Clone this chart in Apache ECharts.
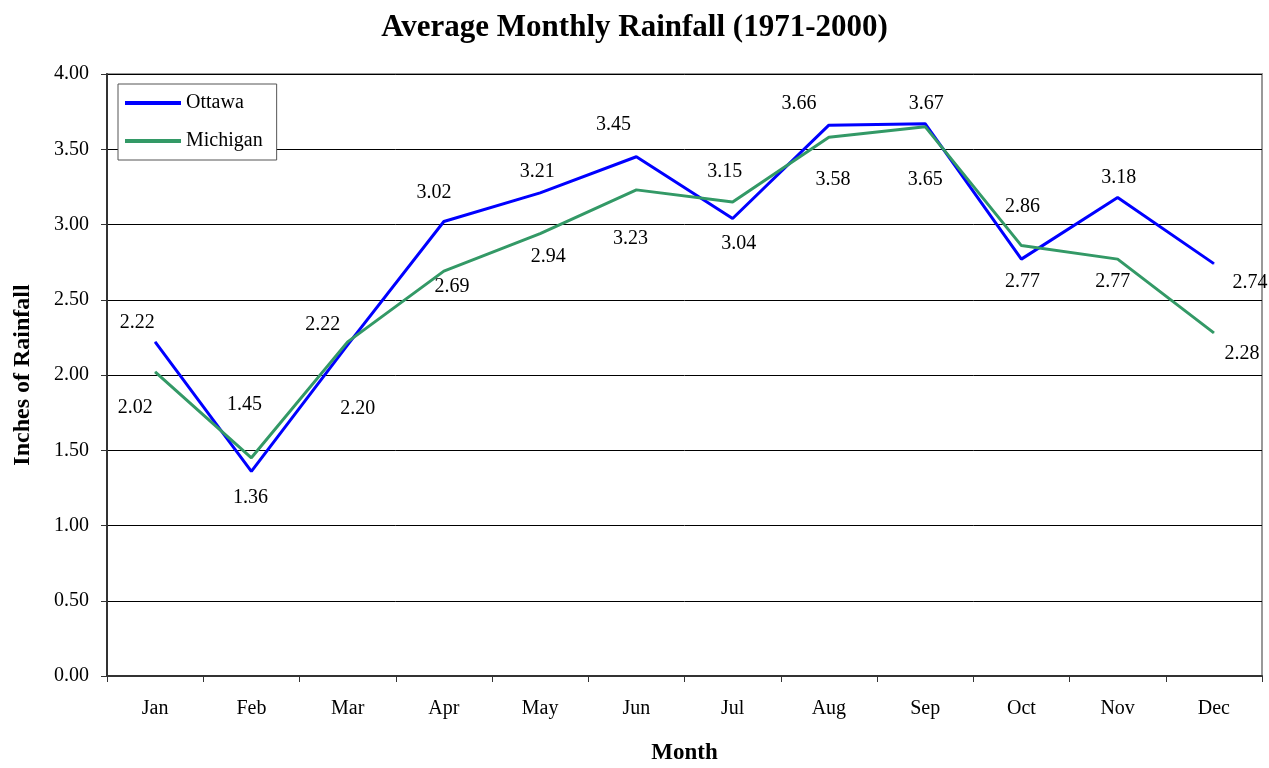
<!DOCTYPE html>
<html>
<head>
<meta charset="utf-8">
<script src="https://cdn.jsdelivr.net/npm/echarts@6/dist/echarts.min.js"></script>
<style>
  html, body { margin: 0; padding: 0; background: #fff; }
  #container { width: 1269px; height: 768px; }
</style>
</head>
<body>
<div id="container"></div>
<script>
var dom = document.getElementById("container");
var myChart = echarts.init(dom);

// data
var months = ['Jan', 'Feb', 'Mar', 'Apr', 'May', 'Jun', 'Jul', 'Aug', 'Sep', 'Oct', 'Nov', 'Dec'];
var ottawa = [2.22, 1.36, 2.20, 3.02, 3.21, 3.45, 3.04, 3.66, 3.67, 2.77, 3.18, 2.74];
var michigan = [2.02, 1.45, 2.22, 2.69, 2.94, 3.23, 3.15, 3.58, 3.65, 2.86, 2.77, 2.28];

// where each value label sits relative to its point (style only)
var ottawaLabelShift = [[-18, -19], [-1, 26], [10, 64], [-10, -29], [-3, -21], [-23, -32],
    [6, 25], [-30, -21], [1, -20], [1, 23], [1, -20], [36, 19]];
var michiganLabelShift = [[-20, 36], [-7, -53], [-25, -17], [8, 16], [8, 23], [-6, 49],
    [-8, -30], [4, 43], [0, 53], [1, -39], [-5, 23], [28, 21]];

var serif = '"Liberation Serif", "Times New Roman", serif';

function withLabels(values, shifts) {
    return values.map(function (v, i) {
        return {
            value: v,
            label: { offset: shifts[i] }
        };
    });
}

var labelStyle = {
    show: true,
    position: 'inside',
    align: 'center',
    verticalAlign: 'middle',
    fontFamily: serif,
    fontSize: 20,
    color: '#000',
    formatter: function (p) {
        return p.value.toFixed(2);
    }
};

var option = {
    backgroundColor: '#fff',
    animation: false,
    title: {
        text: 'Average Monthly Rainfall (1971-2000)',
        left: 'center',
        top: 7,
        textStyle: {
            fontFamily: serif,
            fontWeight: 'bold',
            fontSize: 31,
            color: '#000'
        }
    },
    grid: {
        left: 107,
        right: 7,
        top: 74,
        bottom: 92,
        outerBoundsMode: 'none',
        show: true,
        borderColor: '#999',
        borderWidth: 2
    },
    legend: {
        orient: 'vertical',
        left: 118,
        top: 84,
        padding: [9, 14, 9, 7],
        itemGap: 18,
        itemWidth: 56,
        itemHeight: 4,
        backgroundColor: '#fff',
        borderColor: '#555',
        borderWidth: 1,
        borderRadius: 0,
        textStyle: {
            fontFamily: serif,
            fontSize: 20,
            color: '#000'
        },
        data: [
            { name: 'Ottawa', icon: 'rect' },
            { name: 'Michigan', icon: 'rect' }
        ]
    },
    xAxis: {
        type: 'category',
        data: months,
        name: 'Month',
        nameLocation: 'middle',
        nameGap: 66,
        nameTextStyle: {
            fontFamily: serif,
            fontWeight: 'bold',
            fontSize: 23,
            color: '#000'
        },
        axisLine: { lineStyle: { color: '#333', width: 2 } },
        axisTick: { show: true, length: 6, lineStyle: { color: '#333' } },
        axisLabel: {
            margin: 23,
            fontFamily: serif,
            fontSize: 20,
            color: '#000'
        }
    },
    yAxis: {
        type: 'value',
        min: 0,
        max: 4,
        interval: 0.5,
        name: 'Inches of Rainfall',
        nameLocation: 'middle',
        nameGap: 72,
        nameTextStyle: {
            fontFamily: serif,
            fontWeight: 'bold',
            fontSize: 24,
            color: '#000'
        },
        axisLine: { show: true, lineStyle: { color: '#333', width: 2 } },
        axisTick: { show: true, length: 6, lineStyle: { color: '#333' } },
        axisLabel: {
            margin: 18,
            fontFamily: serif,
            fontSize: 20,
            color: '#000',
            formatter: function (v) {
                return v.toFixed(2);
            }
        },
        splitLine: { lineStyle: { color: '#000', width: 1 } }
    },
    series: [
        {
            name: 'Ottawa',
            type: 'line',
            data: withLabels(ottawa, ottawaLabelShift),
            symbol: 'circle',
            symbolSize: 1,
            color: '#0000ff',
            lineStyle: { color: '#0000ff', width: 3 },
            itemStyle: { color: '#0000ff' },
            label: labelStyle,
            z: 3
        },
        {
            name: 'Michigan',
            type: 'line',
            data: withLabels(michigan, michiganLabelShift),
            symbol: 'circle',
            symbolSize: 1,
            color: '#339966',
            lineStyle: { color: '#339966', width: 3 },
            itemStyle: { color: '#339966' },
            label: labelStyle,
            z: 4
        }
    ]
};

myChart.setOption(option);
</script>
</body>
</html>
